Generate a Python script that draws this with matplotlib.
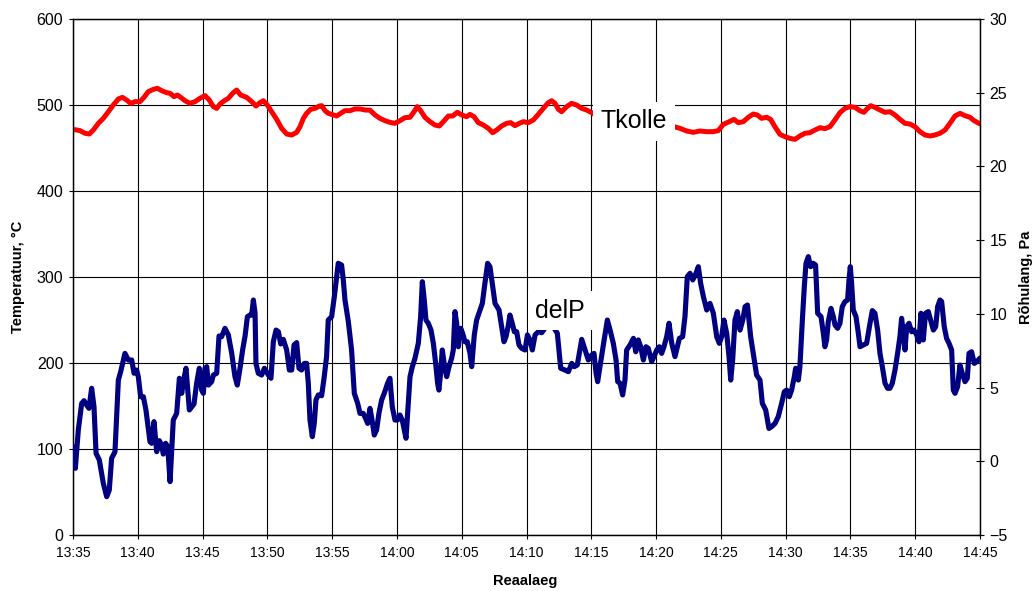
import matplotlib.pyplot as plt
import numpy as np

plt.rcParams['font.family'] = ['Liberation Sans', 'DejaVu Sans']

# minutes after 13:35
tick_labels = ["13:35", "13:40", "13:45", "13:50", "13:55", "14:00", "14:05",
               "14:10", "14:15", "14:20", "14:25", "14:30", "14:35", "14:40", "14:45"]

# Tkolle, degC (left axis)
t_tkolle = [0.0, 0.54, 0.93, 1.26, 1.57, 1.96, 2.34, 2.73, 3.11, 3.50, 3.81, 4.14, 4.45, 4.79,
            5.17, 5.48, 5.81, 6.20, 6.51, 6.84, 7.23, 7.49, 7.80, 8.05, 8.31, 8.64, 9.03, 9.42,
            9.80, 10.19, 10.52, 10.83, 11.09, 11.35, 11.68, 11.99, 12.32, 12.63, 12.94, 13.40,
            13.79, 14.12, 14.43, 14.69, 15.00, 15.33, 15.72, 16.10, 16.49, 16.88, 17.26, 17.52,
            17.78, 18.03, 18.34, 18.68, 19.01, 19.19, 19.45, 19.71, 20.09, 20.35, 20.66, 20.99,
            21.38, 21.76, 22.15, 22.54, 22.92, 23.31, 23.69, 24.08, 24.46, 24.85, 25.24, 25.62,
            26.01, 26.32, 26.57, 26.83, 27.16, 27.55, 27.94, 28.27, 28.58, 28.97, 29.30, 29.66,
            30.00, 30.38, 30.64, 30.95, 31.28, 31.67, 32.05, 32.39, 32.70, 33.08, 33.47, 33.78,
            34.11, 34.45, 34.75, 35.14, 35.53, 35.91, 36.30, 36.68, 36.94, 37.20, 37.46, 37.71,
            38.10, 38.48, 38.87, 39.26, 39.64, 40.03, 40.41, 40.62, 42.0, 44.0, 46.38, 46.84,
            47.36, 47.87, 48.39, 48.90, 49.41, 49.80, 50.19, 50.65, 51.01, 51.34, 51.73, 52.12,
            52.50, 52.81, 53.14, 53.53, 53.84, 54.17, 54.56, 54.95, 55.33, 55.72, 56.10, 56.49,
            56.87, 57.26, 57.65, 58.03, 58.42, 58.80, 59.19, 59.58, 59.96, 60.35, 60.73, 61.04,
            61.25, 61.56, 61.89, 62.28, 62.66, 63.05, 63.44, 63.82, 64.21, 64.59, 64.98, 65.37,
            65.75, 66.14, 66.52, 66.91, 67.30, 67.68, 68.07, 68.46, 68.84, 69.23, 69.54, 70.0]
tkolle = [471.7, 470.2, 467.1, 466.3, 470.9, 478.7, 484.5, 492.2, 500.0, 507.0, 508.9, 505.8,
          501.9, 503.9, 503.9, 508.9, 515.5, 518.2, 519.4, 516.7, 514.3, 513.6, 509.7, 511.6,
          508.9, 505.0, 501.9, 503.9, 507.8, 510.9, 505.8, 498.1, 496.1, 501.2, 505.0, 507.8,
          513.6, 517.4, 511.6, 508.9, 503.9, 498.8, 502.7, 505.0, 500.0, 492.2, 483.3, 472.9,
          466.3, 465.1, 468.2, 474.8, 484.5, 490.3, 495.0, 496.1, 498.8, 499.2, 493.4, 490.3,
          488.4, 487.2, 490.3, 493.4, 493.4, 495.4, 495.4, 494.2, 494.0, 488.4, 484.5, 481.8,
          479.8, 478.7, 481.8, 485.3, 485.7, 492.2, 498.1, 493.4, 485.7, 480.6, 476.7, 475.6,
          480.6, 487.2, 487.2, 491.5, 488.4, 486.4, 489.1, 486.4, 479.5, 476.7, 472.9, 467.8,
          470.9, 475.6, 478.7, 479.5, 476.0, 478.7, 480.6, 479.5, 482.6, 489.1, 496.1, 502.7,
          505.0, 501.9, 495.0, 492.2, 498.1, 501.9, 500.0, 496.1, 494.2, 491.1, 487.2, 484.5,
          480.0, 477.0, 474.8, 472.9, 469.8, 468.2, 469.8, 469.0, 469.0, 470.2, 477.5, 480.6,
          483.3, 479.5, 480.6, 485.7, 489.5, 488.4, 484.5, 485.7, 483.3, 474.8, 465.9, 463.2,
          461.2, 460.1, 464.0, 467.1, 467.8, 470.9, 473.6, 472.5, 474.8, 482.6, 491.1, 496.1,
          498.1, 497.3, 493.4, 491.5, 495.0, 499.2, 497.3, 494.2, 491.5, 492.2, 488.4, 483.3,
          478.7, 477.9, 474.8, 469.0, 465.1, 464.0, 465.1, 467.1, 470.9, 478.7, 487.2, 490.3,
          487.6, 485.7, 481.8, 478.0]

# delP, Pa (right axis)
t_delp = [0.0, 0.08, 0.18, 0.41, 0.67, 0.85, 1.05, 1.23, 1.44, 1.62, 1.78, 2.03, 2.34, 2.60,
          2.80, 2.98, 3.24, 3.50, 3.68, 4.01, 4.27, 4.53, 4.71, 4.91, 5.04, 5.22, 5.43, 5.63,
          5.94, 6.07, 6.25, 6.46, 6.66, 6.84, 6.97, 7.15, 7.31, 7.49, 7.74, 8.00, 8.21, 8.39,
          8.52, 8.72, 8.98, 9.34, 9.54, 9.75, 9.93, 10.06, 10.19, 10.32, 10.45, 10.70, 10.83,
          11.09, 11.27, 11.47, 11.73, 11.99, 12.25, 12.50, 12.68, 12.89, 13.09, 13.28, 13.46,
          13.66, 13.79, 13.92, 14.05, 14.12, 14.30, 14.56, 14.77, 15.08, 15.28, 15.46, 15.67,
          15.85, 16.03, 16.23, 16.49, 16.70, 16.88, 17.06, 17.26, 17.44, 17.64, 17.85, 18.03,
          18.16, 18.29, 18.47, 18.62, 18.75, 18.93, 19.19, 19.39, 19.57, 19.70, 19.96, 20.17,
          20.35, 20.47, 20.73, 20.86, 20.99, 21.25, 21.50, 21.71, 21.97, 22.15, 22.40, 22.58,
          22.74, 22.92, 23.10, 23.25, 23.43, 23.61, 23.82, 24.02, 24.28, 24.46, 24.64, 24.85,
          25.05, 25.23, 25.41, 25.57, 25.70, 25.88, 26.01, 26.19, 26.39, 26.65, 26.83, 26.96,
          27.11, 27.24, 27.42, 27.63, 27.81, 27.99, 28.14, 28.24, 28.37, 28.50, 28.66, 28.84,
          29.02, 29.22, 29.35, 29.48, 29.61, 29.74, 29.92, 30.07, 30.25, 30.43, 30.64, 30.77,
          30.97, 31.15, 31.41, 31.59, 31.79, 32.00, 32.18, 32.39, 32.57, 32.88, 33.08, 33.26,
          33.42, 33.60, 33.72, 33.90, 34.06, 34.24, 34.42, 34.63, 34.89, 35.07, 35.27, 35.45,
          35.66, 35.91, 36.17, 36.8, 37.38, 37.64, 37.97, 38.23, 38.49, 38.69, 38.92, 39.26,
          39.52, 39.77, 40.03, 40.21, 40.37, 40.49, 40.67, 40.93, 41.24, 41.45, 41.70, 41.91,
          42.04, 42.22, 42.42, 42.60, 42.73, 42.99, 43.25, 43.43, 43.63, 43.81, 44.02, 44.22,
          44.40, 44.66, 44.84, 45.05, 45.25, 45.43, 45.61, 45.82, 46.00, 46.21, 46.46, 46.64,
          46.80, 47.05, 47.23, 47.41, 47.62, 47.83, 48.08, 48.26, 48.44, 48.65, 48.91, 49.16,
          49.42, 49.68, 49.88, 50.06, 50.24, 50.45, 50.63, 50.76, 50.91, 51.09, 51.27, 51.48,
          51.69, 51.87, 52.05, 52.30, 52.50, 52.76, 53.02, 53.20, 53.46, 53.71, 53.92, 54.18,
          54.43, 54.69, 54.90, 55.08, 55.28, 55.46, 55.67, 55.77, 55.98, 56.10, 56.29, 56.44,
          56.57, 56.75, 56.93, 57.13, 57.31, 57.47, 57.73, 57.91, 58.03, 58.16, 58.29, 58.50,
          58.68, 58.81, 59.01, 59.19, 59.37, 59.58, 59.78, 59.89, 59.99, 60.09, 60.22, 60.43,
          60.61, 60.74, 60.99, 61.25, 61.51, 61.69, 61.89, 62.10, 62.28, 62.46, 62.67, 62.87,
          63.05, 63.23, 63.44, 63.64, 63.82, 63.95, 64.08, 64.21, 64.34, 64.52, 64.72, 64.90,
          65.11, 65.29, 65.44, 65.62, 65.80, 66.01, 66.19, 66.40, 66.58, 66.73, 66.91, 67.04,
          67.24, 67.42, 67.61, 67.81, 67.94, 68.07, 68.27, 68.45, 68.63, 68.84, 69.02, 69.15,
          69.35, 69.56, 69.8, 70.0]
delp = [1.0, 0.54, -0.48, 2.12, 3.93, 4.11, 3.82, 3.59, 4.95, 3.70, 0.54, 0.09, -1.50, -2.40,
        -1.95, 0.20, 0.65, 5.51, 6.08, 7.32, 6.87, 6.87, 5.97, 6.19, 5.74, 4.38, 4.38, 3.48,
        1.33, 1.22, 2.69, 0.65, 1.40, 1.10, 0.49, 1.22, 0.99, -1.38, 2.80, 3.25, 5.63, 4.61,
        5.40, 6.31, 3.48, 3.89, 5.29, 6.31, 4.83, 4.61, 6.31, 6.42, 5.17, 5.40, 5.85, 5.97,
        8.50, 8.45, 9.02, 8.57, 7.32, 5.74, 5.17, 6.31, 7.55, 8.50, 9.81, 9.92, 9.92, 10.94,
        10.04, 6.64, 5.97, 5.85, 6.31, 5.85, 5.63, 8.11, 8.90, 8.79, 7.96, 8.27, 7.55, 6.19,
        6.19, 7.89, 8.05, 6.31, 6.19, 6.64, 6.64, 5.29, 2.80, 1.67, 2.57, 4.16, 4.50, 4.45,
        5.74, 7.10, 9.58, 9.81, 11.17, 12.52, 13.43, 13.31, 12.30, 10.94, 9.47, 7.55, 4.61,
        3.93, 3.25, 3.25, 2.91, 2.57, 3.59, 2.69, 1.78, 2.12, 3.25, 4.16, 4.61, 5.29, 5.63,
        3.70, 2.80, 2.80, 3.14, 2.80, 2.12, 1.56, 3.93, 5.74, 6.42, 6.98, 8.00, 9.81, 12.18,
        10.94, 9.58, 9.36, 8.90, 8.00, 6.64, 5.29, 4.83, 5.97, 7.55, 6.53, 5.74, 6.42, 6.98,
        7.55, 10.15, 9.36, 7.77, 9.02, 8.68, 8.11, 8.11, 7.32, 6.42, 8.57, 9.58, 10.26, 10.71,
        12.07, 13.43, 13.20, 11.84, 10.71, 10.26, 9.13, 8.11, 8.45, 9.24, 9.92, 9.36, 8.79,
        8.79, 7.89, 7.66, 7.55, 8.57, 8.23, 7.55, 8.57, 8.79, 8.72, 9.5, 8.68, 6.31, 6.19,
        6.08, 6.64, 6.42, 6.53, 8.27, 7.55, 6.87, 7.21, 7.32, 5.97, 5.40, 6.42, 7.89, 9.58,
        8.90, 8.00, 6.87, 5.40, 5.29, 4.50, 5.51, 7.55, 7.89, 8.34, 7.43, 8.23, 7.77, 6.87,
        7.77, 7.66, 6.76, 7.10, 7.55, 7.77, 7.32, 7.77, 8.45, 9.36, 8.00, 7.10, 7.77, 8.34,
        8.45, 9.81, 12.52, 12.75, 12.30, 12.75, 13.20, 12.07, 11.17, 10.26, 10.71, 10.04, 8.45,
        8.00, 8.45, 9.58, 8.68, 7.10, 5.51, 6.87, 9.58, 10.15, 8.90, 9.58, 10.49, 10.60, 8.45,
        7.32, 5.85, 5.51, 3.93, 3.48, 2.23, 2.35, 2.57, 3.03, 3.93, 4.72, 4.83, 4.38, 4.83,
        5.74, 6.31, 5.51, 6.42, 9.58, 11.84, 13.43, 13.88, 13.20, 13.43, 13.31, 10.04, 9.81,
        8.68, 7.77, 8.23, 9.47, 10.37, 9.81, 9.24, 9.02, 9.36, 10.49, 10.83, 10.94, 12.30,
        13.20, 12.07, 10.26, 9.81, 8.68, 7.77, 7.89, 8.00, 9.36, 10.22, 10.04, 8.90, 7.32,
        6.42, 5.29, 4.95, 4.95, 5.29, 6.19, 7.32, 8.45, 9.70, 8.68, 7.55, 9.13, 9.36, 8.79,
        8.90, 8.57, 8.11, 10.04, 8.23, 10.04, 10.15, 9.58, 8.90, 9.13, 10.49, 10.94, 10.83,
        9.13, 8.34, 8.00, 7.55, 4.83, 4.61, 5.06, 6.53, 5.97, 5.40, 5.63, 7.32, 7.43, 6.64,
        6.8, 7.0]

fig = plt.figure(figsize=(10.33, 5.91), dpi=100)
ax = fig.add_axes([0.07067, 0.09475, 0.87803, 0.87310])
ax2 = ax.twinx()

ax.plot(t_tkolle, tkolle, color='#FF0000', lw=3.6, solid_joinstyle='round',
        solid_capstyle='round', zorder=3)
ax2.plot(t_delp, delp, color='#000080', lw=3.7, solid_joinstyle='round',
         solid_capstyle='round', zorder=3)

ax.set_xlim(0, 70)
ax.set_ylim(0, 600)
ax2.set_ylim(-5, 30)
ax.set_xticks(np.arange(0, 71, 5))
ax.set_xticklabels(tick_labels)
ax.set_yticks(np.arange(0, 601, 100))
ax2.set_yticks(np.arange(-5, 31, 5))

ax.grid(True, color='black', lw=0.8)
ax.set_axisbelow(True)

for a in (ax, ax2):
    for s in a.spines.values():
        s.set_color('black')
        s.set_linewidth(0.9)

ax.tick_params(axis='x', labelsize=10, length=3, width=0.8, pad=5)
ax.tick_params(axis='y', labelsize=11.5, length=3, width=0.8, pad=4)
ax2.tick_params(axis='y', labelsize=11.5, length=6, width=0.8, pad=4, direction='inout')

ax.set_ylabel("Temperatuur, °C", fontsize=10.5, fontweight='bold')
ax.yaxis.set_label_coords(-0.053, 0.5)
ax2.set_ylabel("Rõhulang, Pa", fontsize=10.5, fontweight='bold')
ax2.yaxis.set_label_coords(1.043, 0.5)
ax.set_xlabel("Reaalaeg", fontsize=10.5, fontweight='bold')
ax.xaxis.set_label_coords(0.498, -0.076)

# series labels in white boxes, drawn over both lines
box = dict(boxstyle='square,pad=0.3', facecolor='white', edgecolor='none')
ax2.text(43.3, 481, "Tkolle", transform=ax.transData, fontsize=18, ha='center',
         va='center', bbox=box, zorder=10)
ax2.text(37.6, 10.2, "delP", fontsize=18, ha='center', va='center', bbox=box, zorder=10)

fig.savefig("out.png", dpi=100)
